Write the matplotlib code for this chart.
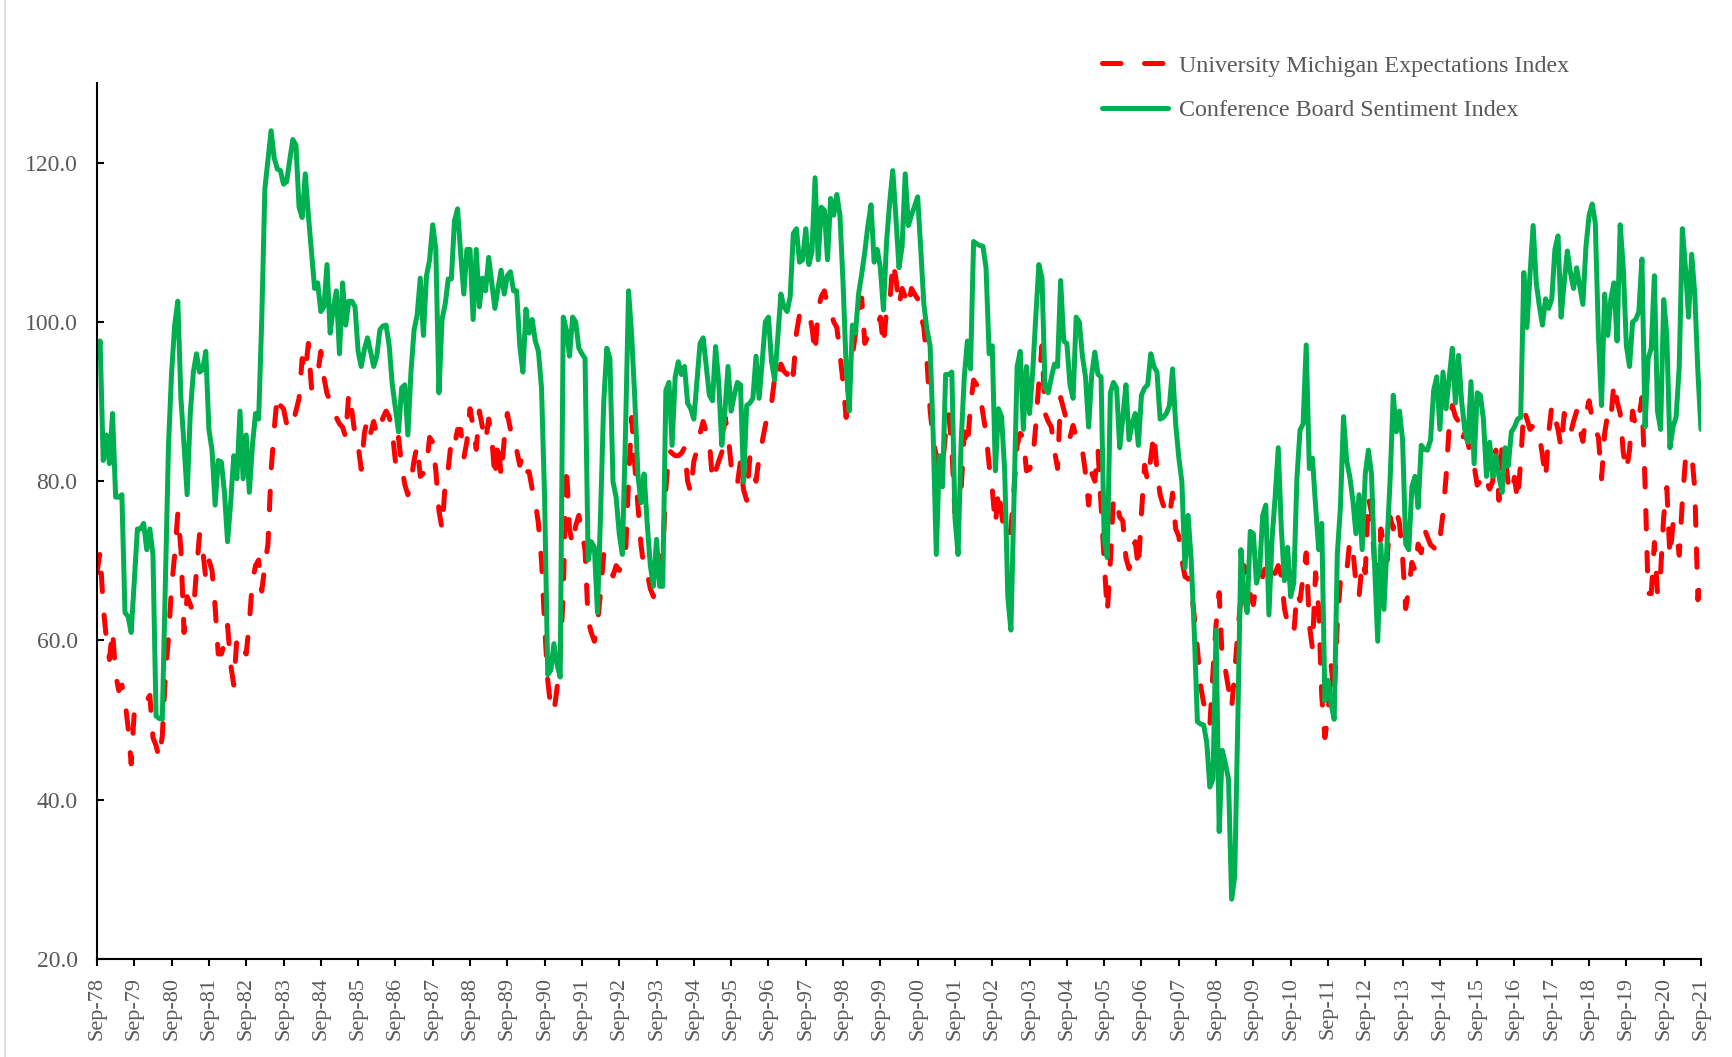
import numpy as np
import matplotlib
matplotlib.use("Agg")
import matplotlib.pyplot as plt
from matplotlib.ticker import FormatStrFormatter
from matplotlib.lines import Line2D

# monthly values, Sep-78 .. Sep-21 (one row = Sep..Aug)
um_expect = [
    68.5, 71.1, 64.2, 60.3, 57.6, 61.3, 55.7, 53.7, 54.4, 52.4, 49.1, 44.5,
    51.1, 51.7, 51.7, 52.1, 52.4, 53.1, 47.8, 46.8, 45.2, 48.0, 55.7, 60.3,
    66.8, 70.8, 76.0, 71.4, 61.0, 65.5, 64.5, 63.5, 68.8, 73.4, 71.4, 67.8,
    70.1, 68.8, 64.2, 58.3, 58.3, 59.6, 61.9, 57.0, 54.4, 60.3, 60.3, 59.0,
    58.3, 62.2, 67.5, 69.4, 70.1, 66.2, 69.4, 72.1, 81.3, 86.5, 90.8, 89.5,
    89.1, 87.2, 86.5, 87.2, 88.8, 90.4, 95.4, 93.7, 97.3, 91.7, 93.1, 93.4,
    96.3, 93.0, 91.0, 90.1, 88.8, 88.0, 87.2, 86.8, 85.5, 91.1, 88.8, 85.8,
    84.5, 81.5, 86.0, 87.8, 86.0, 87.5, 85.8, 86.5, 88.0, 88.8, 88.1, 86.2,
    82.5, 85.5, 81.9, 79.6, 78.3, 80.0, 82.6, 84.5, 80.6, 81.0, 82.0, 85.5,
    84.9, 81.3, 76.3, 74.0, 79.6, 81.6, 85.2, 84.5, 86.5, 86.5, 82.9, 85.0,
    89.1, 86.8, 84.0, 88.8, 86.8, 85.0, 87.8, 85.5, 80.3, 85.2, 80.6, 85.2,
    88.5, 86.5, 85.5, 83.9, 82.0, 83.2, 81.2, 81.2, 79.0, 77.3, 74.7, 70.0,
    62.0, 55.0, 51.5, 51.0, 54.0, 58.0, 66.0, 82.0, 74.0, 72.0, 74.4, 75.7,
    73.7, 71.4, 62.5, 61.0, 59.9, 62.2, 66.0, 70.8, 70.5, 70.1, 68.1, 69.4,
    68.8, 69.5, 70.4, 80.0, 88.0, 82.0, 77.0, 72.0, 69.0, 68.5, 66.5, 65.5,
    67.5, 68.5, 71.0, 79.0, 83.9, 83.5, 83.2, 83.2, 83.5, 84.2, 80.0, 78.6,
    82.5, 83.9, 86.0, 87.5, 86.2, 85.0, 80.0, 81.3, 82.5, 83.6, 88.1, 86.0,
    82.0, 80.6, 79.6, 82.5, 78.9, 77.6, 83.0, 81.3, 80.0, 83.0, 85.0, 87.0,
    88.8, 89.8, 93.0, 92.4, 94.7, 93.8, 93.4, 95.0, 93.4, 98.6, 100.9, 101.0,
    100.9, 101.3, 99.3, 96.0, 101.6, 103.2, 103.9, 102.0, 101.3, 100.0, 99.3, 96.0,
    92.4, 88.0, 93.7, 95.7, 98.6, 100.6, 103.0, 97.3, 98.3, 98.5, 99.0, 99.5,
    100.6, 97.0, 101.6, 102.2, 107.5, 105.5, 102.0, 104.2, 103.2, 101.9, 104.2, 103.5,
    102.9, 100.9, 99.3, 95.0, 89.0, 85.0, 83.2, 81.3, 82.0, 86.0, 88.5, 84.0,
    76.0, 77.5, 79.0, 86.2, 84.2, 89.5, 92.7, 92.1, 91.0, 88.5, 86.0, 82.0,
    79.0, 74.5, 79.0, 76.0, 73.0, 73.0, 74.0, 79.0, 84.5, 86.0, 85.5, 81.3,
    81.5, 82.6, 87.0, 92.5, 97.0, 88.5, 87.5, 86.8, 83.9, 81.6, 90.5, 89.0,
    87.5, 85.5, 87.0, 85.5, 85.0, 83.9, 81.0, 77.0, 81.0, 80.0, 84.0, 77.0,
    70.0, 63.5, 70.0, 78.0, 77.5, 75.5, 75.0, 70.4, 69.0, 71.4, 72.4, 69.0,
    76.0, 82.0, 80.0, 82.9, 86.0, 81.3, 78.3, 77.0, 76.3, 75.5, 78.5, 74.0,
    73.1, 70.1, 68.0, 67.8, 66.5, 63.0, 59.0, 54.4, 52.1, 51.1, 49.4, 56.0,
    62.0, 66.0, 57.5, 56.3, 54.0, 51.5, 56.0, 61.0, 65.5, 69.4, 68.1, 65.8,
    64.5, 67.5, 68.8, 68.0, 69.4, 68.5, 67.8, 68.5, 69.4, 68.1, 64.0, 62.2,
    61.5, 60.9, 66.0, 65.0, 68.0, 71.0, 62.0, 59.0, 68.5, 64.0, 53.0, 47.8,
    50.5, 57.0, 53.0, 62.0, 67.5, 68.8, 68.5, 72.5, 71.4, 67.2, 65.5, 70.0,
    68.5, 78.0, 76.0, 69.5, 64.5, 74.0, 72.0, 70.0, 75.5, 74.0, 76.3, 74.7,
    70.5, 64.0, 66.5, 69.8, 68.8, 72.1, 71.0, 74.0, 73.0, 72.0, 71.7, 71.1,
    72.7, 76.0, 80.6, 87.0, 89.5, 88.1, 87.5, 85.2, 86.0, 84.9, 83.0, 82.0,
    79.5, 80.0, 81.0, 80.0, 79.0, 80.0, 83.9, 77.6, 84.5, 83.2, 79.6, 78.5,
    80.5, 77.5, 82.5, 89.0, 87.8, 86.5, 87.0, 86.5, 85.8, 83.2, 80.3, 86.0,
    89.5, 88.0, 86.5, 84.2, 88.5, 87.2, 86.0, 87.5, 88.8, 86.5, 85.0, 88.5,
    90.1, 87.8, 86.5, 85.5, 80.3, 86.0, 88.5, 87.8, 92.4, 90.0, 88.5, 83.6,
    81.3, 83.9, 88.8, 86.8, 88.0, 90.5, 79.7, 65.9, 65.9, 72.3, 65.9, 68.5,
    75.6, 79.2, 70.5, 74.6, 74.0, 70.7, 77.5, 82.7, 82.8, 83.5, 79.0, 65.1,
    68.1,
]

cb_index = [
    95.5, 97.6, 82.6, 85.8, 82.2, 88.5, 78.0, 78.0, 78.3, 63.5, 63.0, 61.0,
    67.5, 74.0, 74.0, 74.7, 71.4, 74.0, 70.8, 50.5, 50.2, 50.1, 67.5, 84.5,
    93.7, 99.6, 102.6, 90.4, 84.5, 78.3, 88.5, 93.7, 96.0, 93.7, 94.0, 96.3,
    86.5, 83.9, 77.0, 82.6, 82.4, 78.6, 72.4, 77.3, 83.2, 80.3, 88.8, 80.3,
    85.8, 78.6, 84.5, 88.5, 87.8, 100.3, 116.7, 120.3, 124.0, 120.6, 119.2, 119.0,
    117.3, 117.6, 120.3, 122.9, 122.2, 114.4, 113.1, 118.6, 113.4, 108.8, 104.2, 104.9,
    101.3, 101.9, 107.2, 98.6, 101.6, 103.9, 96.0, 104.9, 99.6, 102.6, 102.6, 101.9,
    96.3, 94.4, 96.5, 98.0, 96.3, 94.4, 95.7, 99.0, 99.5, 99.6, 97.0, 92.1,
    89.1, 86.2, 91.7, 92.1, 85.8, 93.7, 99.0, 100.9, 105.5, 98.3, 105.8, 107.8,
    112.2, 109.1, 91.1, 100.3, 102.2, 105.4, 105.4, 112.7, 114.2, 108.5, 103.5, 109.1,
    109.1, 100.3, 109.1, 101.9, 105.5, 103.9, 108.1, 104.9, 101.7, 104.2, 106.5, 103.5,
    105.8, 106.3, 103.9, 103.9, 97.0, 93.7, 101.6, 98.6, 100.3, 97.6, 96.3, 91.7,
    77.7, 55.7, 56.3, 59.6, 57.0, 55.4, 100.6, 99.0, 95.7, 100.6, 100.0, 96.7,
    96.0, 95.4, 70.1, 72.4, 71.7, 63.5, 76.0, 89.8, 96.7, 95.4, 79.9, 78.0,
    73.4, 70.8, 85.8, 103.9, 98.3, 90.4, 80.9, 77.3, 80.9, 74.7, 69.4, 66.8,
    72.7, 66.8, 66.8, 91.4, 92.4, 84.5, 93.1, 95.0, 93.4, 94.4, 89.8, 89.1,
    87.8, 92.5, 97.3, 98.0, 94.4, 90.8, 90.1, 96.9, 92.4, 84.5, 88.8, 94.4,
    88.8, 90.8, 92.4, 92.1, 79.9, 89.5, 89.8, 90.4, 95.7, 90.4, 95.0, 100.0,
    100.6, 95.0, 92.7, 98.0, 103.5, 101.9, 101.3, 103.2, 111.1, 111.7, 107.5, 107.8,
    111.7, 107.2, 108.8, 118.1, 107.8, 114.4, 114.0, 107.8, 115.5, 113.4, 116.0, 113.4,
    104.9, 94.4, 88.8, 99.6, 98.6, 103.5, 106.0, 108.8, 112.1, 114.7, 107.5, 109.1,
    106.8, 101.5, 110.1, 115.0, 119.0, 113.1, 106.8, 109.5, 118.6, 112.1, 113.4, 114.5,
    115.7, 109.1, 102.2, 99.0, 97.0, 85.8, 70.8, 83.2, 79.3, 93.4, 93.4, 93.7,
    75.4, 70.8, 85.0, 93.1, 97.6, 94.1, 110.1, 109.8, 109.6, 109.5, 106.8, 96.0,
    97.0, 81.3, 89.1, 88.1, 81.3, 65.5, 61.3, 78.0, 94.4, 96.3, 86.5, 94.4,
    88.5, 93.7, 100.6, 107.2, 105.5, 91.7, 91.1, 93.0, 94.7, 94.4, 105.2, 97.6,
    97.3, 92.1, 90.4, 100.6, 100.0, 95.7, 93.1, 86.8, 93.4, 96.2, 93.4, 93.1,
    72.7, 70.4, 91.1, 92.4, 91.7, 84.2, 88.0, 92.1, 85.2, 87.2, 88.5, 84.5,
    90.8, 91.7, 92.1, 96.0, 94.4, 93.7, 87.8, 88.0, 88.5, 89.5, 94.1, 87.2,
    83.0, 79.9, 69.1, 75.7, 70.1, 60.9, 49.8, 49.5, 49.4, 47.2, 41.6, 42.6,
    61.3, 36.0, 46.2, 44.5, 42.6, 27.5, 30.4, 50.0, 71.4, 65.5, 63.5, 73.7,
    73.4, 67.2, 68.8, 75.7, 77.0, 63.2, 72.7, 78.0, 84.2, 74.0, 67.5, 71.7,
    65.5, 67.2, 80.3, 86.4, 87.2, 97.1, 81.6, 82.9, 77.0, 71.4, 74.7, 52.4,
    55.0, 52.0, 50.1, 70.8, 76.7, 88.1, 82.6, 80.6, 77.6, 73.4, 78.3, 71.4,
    80.9, 83.9, 80.9, 69.4, 59.9, 72.1, 63.9, 72.0, 80.3, 90.8, 86.2, 88.8,
    85.2, 72.1, 71.4, 79.3, 80.6, 76.7, 84.5, 84.0, 83.9, 85.2, 91.4, 93.1,
    86.5, 93.7, 89.1, 93.0, 96.7, 89.8, 95.8, 90.0, 86.5, 84.9, 92.5, 82.2,
    91.1, 90.8, 87.8, 80.6, 84.9, 80.6, 83.2, 80.6, 78.6, 84.2, 81.9, 86.2,
    86.8, 87.8, 88.0, 106.2, 99.3, 106.0, 112.1, 104.9, 102.0, 99.6, 102.9, 101.7,
    102.9, 109.1, 110.8, 100.6, 105.0, 108.9, 106.2, 104.2, 106.8, 104.5, 102.2, 109.5,
    113.4, 114.8, 112.4, 98.3, 89.5, 103.5, 98.3, 102.9, 104.9, 97.6, 112.2, 106.8,
    97.0, 94.4, 100.0, 100.3, 101.3, 107.9, 86.8, 95.4, 96.7, 105.8, 88.8, 86.5,
    102.8, 98.3, 84.2, 86.8, 88.1, 94.4, 111.7, 106.8, 100.6, 108.5, 103.5, 93.7,
    86.5,
]

years = ["78", "79", "80", "81", "82", "83", "84", "85", "86", "87", "88",
         "89", "90", "91", "92", "93", "94", "95", "96", "97", "98", "99",
         "00", "01", "02", "03", "04", "05", "06", "07", "08", "09", "10",
         "11", "12", "13", "14", "15", "16", "17", "18", "19", "20", "21"]
tick_labels = ["Sep-" + y for y in years]

grey = "#595959"
plt.rcParams["font.family"] = ["Liberation Serif", "DejaVu Serif"]

fig = plt.figure(figsize=(17.32, 10.57), dpi=100)
ax = fig.add_axes([97 / 1732, 98 / 1057, 1604 / 1732, 876 / 1057])

x = np.arange(len(cb_index))
ax.plot(x, um_expect, color="#FF0000", lw=3.6, linestyle=(0, (3.7, 4.7)),
        dash_capstyle="round", label="University Michigan Expectations Index")
ax.plot(x, cb_index, color="#00B050", lw=3.6, solid_joinstyle="round",
        solid_capstyle="round", label="Conference Board Sentiment Index")

ax.set_xlim(0, len(cb_index) - 1)
ax.set_ylim(20, 130)
ax.set_yticks([20, 40, 60, 80, 100, 120])
ax.yaxis.set_major_formatter(FormatStrFormatter("%.1f"))
ax.set_xticks(np.arange(0, len(cb_index), 12))
ax.set_xticklabels(tick_labels, rotation=90)

for s in ["top", "right"]:
    ax.spines[s].set_visible(False)
for s in ["left", "bottom"]:
    ax.spines[s].set_linewidth(1.5)
    ax.spines[s].set_color("black")

ax.tick_params(axis="y", direction="in", length=5, width=1.5, pad=14,
               labelsize=17, labelcolor=grey)
ax.tick_params(axis="x", direction="out", length=5, width=1.5, pad=8,
               labelsize=16, labelcolor=grey)

leg = fig.legend(loc="upper left", bbox_to_anchor=(1102 / 1732, 0.948),
                 frameon=False, fontsize=17.3, handlelength=2.75,
                 handletextpad=0.45, labelspacing=0.95, borderpad=0,
                 borderaxespad=0)
for t in leg.get_texts():
    t.set_color(grey)

# faint frame edge at the left of the picture
fig.add_artist(Line2D([5 / 1732, 5 / 1732], [0, 1], transform=fig.transFigure,
                      color="#D9D9D9", lw=1.2))

fig.savefig("out.png", dpi=100)
